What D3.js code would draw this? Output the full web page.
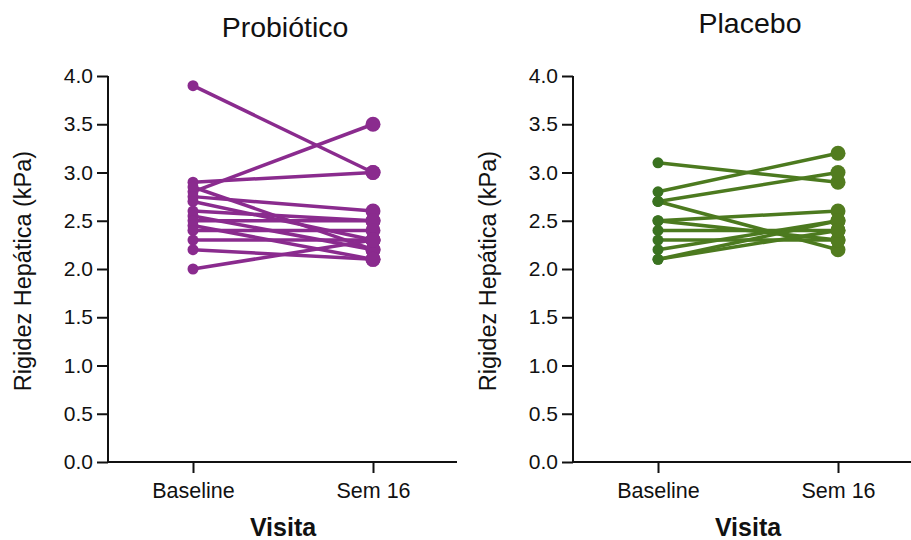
<!DOCTYPE html>
<html>
<head>
<meta charset="utf-8">
<script src="https://cdn.jsdelivr.net/npm/d3@7"></script>
<style>
  body { margin: 0; background: #fff; }
  svg text { font-family: "Liberation Sans", Arial, sans-serif; fill: #111; }
</style>
</head>
<body>
<svg id="chart" width="911" height="540"></svg>
<script>
// Visits on the x axis
const visits = ["Baseline", "Sem 16"];
const yTicks = [0, 0.5, 1, 1.5, 2, 2.5, 3, 3.5, 4];

// Probiótico group: paired liver stiffness (kPa)
const probBaseline = [3.9, 2.9, 2.8, 2.85, 2.75, 2.7, 2.6, 2.55, 2.5, 2.45, 2.4, 2.3, 2.2, 2.0];
const probSem16    = [3.0, 3.0, 3.5, 2.2, 2.6, 2.3, 2.5, 2.2, 2.5, 2.1, 2.4, 2.3, 2.1, 2.3];

// Placebo group
const placBaseline = [3.1, 2.8, 2.7, 2.7, 2.5, 2.5, 2.4, 2.3, 2.2, 2.1, 2.1];
const placSem16    = [2.9, 3.2, 3.0, 2.2, 2.6, 2.3, 2.4, 2.3, 2.5, 2.5, 2.4];

const panels = [
  { title: "Probiótico", base: probBaseline, sem: probSem16, x0: 108, titleY: 37,
    line: "#8a2b8e", dotA: "#8a2b8e", dotB: "#8a2b8e" },
  { title: "Placebo", base: placBaseline, sem: placSem16, x0: 573, titleY: 33,
    line: "#4c7a1f", dotA: "#3a7220", dotB: "#527c1f" }
];

const svg = d3.select("#chart");
const plotTop = 76, plotBottom = 462, plotWidth = 349;

const y = d3.scaleLinear().domain([0, 4]).range([plotBottom, plotTop]);

panels.forEach(p => {
  const g = svg.append("g");
  const x = d3.scalePoint().domain(visits).range([p.x0 + 85, p.x0 + 265]);

  // y axis
  const yAxis = d3.axisLeft(y).tickValues(yTicks).tickFormat(d3.format(".1f"))
    .tickSize(11).tickSizeOuter(0).tickPadding(4);
  const ga = g.append("g").attr("transform", `translate(${p.x0},0)`).call(yAxis);
  ga.select(".domain").attr("stroke", "#111").attr("stroke-width", 2)
    .attr("d", `M0,${plotTop}V${plotBottom + 1}`);
  ga.selectAll(".tick line").attr("stroke", "#111").attr("stroke-width", 2);
  ga.selectAll(".tick text").attr("font-size", 21).attr("fill", "#111")
    .attr("font-family", "Liberation Sans, Arial, sans-serif");

  // x axis
  const xAxis = d3.axisBottom(x).tickSize(11).tickSizeOuter(0).tickPadding(10);
  const gx = g.append("g").attr("transform", `translate(0,${plotBottom})`).call(xAxis);
  gx.select(".domain").attr("stroke", "#111").attr("stroke-width", 2)
    .attr("d", `M${p.x0 - 1},0H${p.x0 + plotWidth}`);
  gx.selectAll(".tick line").attr("stroke", "#111").attr("stroke-width", 2);
  gx.selectAll(".tick text").attr("font-size", 21.5).attr("fill", "#111")
    .attr("font-family", "Liberation Sans, Arial, sans-serif");

  // paired lines
  const pairs = p.base.map((b, i) => [b, p.sem[i]]);
  g.append("g").selectAll("line").data(pairs).join("line")
    .attr("x1", x(visits[0])).attr("x2", x(visits[1]))
    .attr("y1", d => y(d[0])).attr("y2", d => y(d[1]))
    .attr("stroke", p.line).attr("stroke-width", 3.5);

  // points
  g.append("g").selectAll("circle").data(p.base).join("circle")
    .attr("cx", x(visits[0])).attr("cy", d => y(d)).attr("r", 5.5).attr("fill", p.dotA);
  g.append("g").selectAll("circle").data(p.sem).join("circle")
    .attr("cx", x(visits[1])).attr("cy", d => y(d)).attr("r", 7.5).attr("fill", p.dotB);

  // titles
  const cx = (x(visits[0]) + x(visits[1])) / 2;
  g.append("text").attr("x", cx + 2).attr("y", p.titleY).attr("text-anchor", "middle")
    .attr("font-size", 28.5).text(p.title);
  g.append("text").attr("x", cx).attr("y", 536).attr("text-anchor", "middle")
    .attr("font-size", 25).attr("font-weight", "bold").text("Visita");
  g.append("text")
    .attr("transform", `translate(${p.x0 - 77},${(plotTop + plotBottom) / 2 + 2}) rotate(-90)`)
    .attr("text-anchor", "middle").attr("font-size", 23.5).text("Rigidez Hepática (kPa)");
});
</script>
</body>
</html>
